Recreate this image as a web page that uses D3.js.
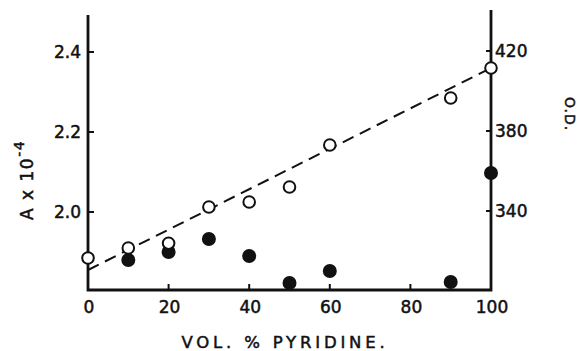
<!DOCTYPE html>
<html>
<head>
<meta charset="utf-8">
<script src="https://cdn.jsdelivr.net/npm/d3@7"></script>
<style>
  body { margin: 0; background: #fff; }
  svg { display: block; }
  text { font-family: "DejaVu Sans", sans-serif; fill: #111; stroke: #111; stroke-width: 0.5px; }
</style>
</head>
<body>
<div id="chart"></div>
<script>
// Data
const pyridine = [0, 10, 20, 30, 40, 50, 60, 90, 100]
const openA = [1.885, 1.91, 1.922, 2.0125, 2.025, 2.0625, 2.1675, 2.285, 2.36]
const filledX = [10, 20, 30, 40, 50, 60, 90, 100]
const filledA = [1.88, 1.90, 1.9325, 1.89, 1.8225, 1.8525, 1.825, 2.0975]
const fitLine = [[0, 1.855], [100, 2.36]]
const xTicks = [0, 20, 40, 60, 80, 100]
const leftTicks = [2.0, 2.2, 2.4]
const rightTicks = [340, 380, 420]

const width = 577, height = 351
const svg = d3.select('#chart').append('svg')
    .attr('width', width)
    .attr('height', height)

// Scales
const x = d3.scaleLinear().domain([0, 100]).range([88, 491])
const y = d3.scaleLinear().domain([2.0, 2.4]).range([212, 52])
const yRight = d3.scaleLinear().domain([340, 420]).range([211, 51])
const axisBottom = 290

// Axis lines
svg.append('path')
    .attr('d', `M${x(0)},15 L${x(0)},${axisBottom} L${x(100)},${axisBottom} L${x(100)},10`)
    .attr('stroke', '#111')
    .attr('stroke-width', 2.8)
    .attr('fill', 'none')

// Ticks (inward)
const tickG = svg.append('g').attr('stroke', '#111').attr('stroke-width', 2)
tickG.selectAll('line.xt')
    .data(xTicks.filter(d => d > 0 && d < 100))
    .join('line')
    .attr('x1', d => x(d)).attr('x2', d => x(d))
    .attr('y1', axisBottom).attr('y2', axisBottom - 6)
tickG.selectAll('line.lt')
    .data(leftTicks)
    .join('line')
    .attr('x1', x(0)).attr('x2', x(0) + 6)
    .attr('y1', d => y(d)).attr('y2', d => y(d))
svg.append('g').attr('stroke', '#111').attr('stroke-width', 2)
    .selectAll('line')
    .data(rightTicks)
    .join('line')
    .attr('x1', x(100) - 5).attr('x2', x(100))
    .attr('y1', d => yRight(d)).attr('y2', d => yRight(d))

// Tick labels
svg.append('g').selectAll('text')
    .data(xTicks)
    .join('text')
    .attr('x', d => x(d) + 1)
    .attr('y', 313)
    .attr('text-anchor', 'middle')
    .attr('font-size', 17)
    .text(d => d)
svg.append('g').selectAll('text')
    .data(leftTicks)
    .join('text')
    .attr('x', 81)
    .attr('y', d => y(d))
    .attr('dy', '0.36em')
    .attr('text-anchor', 'end')
    .attr('font-size', 17)
    .text(d => d.toFixed(1))
svg.append('g').selectAll('text')
    .data(rightTicks)
    .join('text')
    .attr('x', 495)
    .attr('y', d => yRight(d))
    .attr('dy', '0.36em')
    .attr('font-size', 17)
    .text(d => d)

// Axis titles
svg.append('text')
    .attr('x', 285)
    .attr('y', 348)
    .attr('text-anchor', 'middle')
    .attr('font-size', 16.5)
    .attr('letter-spacing', 3.8)
    .text('VOL. % PYRIDINE.')

const leftTitle = svg.append('text')
    .attr('transform', 'translate(33,220) rotate(-90)')
    .attr('font-size', 17)
    .attr('letter-spacing', 1.5)
leftTitle.append('tspan').text('A x 10')
leftTitle.append('tspan').attr('dy', -9).attr('font-size', 14).text('-4')

svg.append('text')
    .attr('transform', 'translate(565,97) rotate(90)')
    .attr('font-size', 14)
    .attr('letter-spacing', 1)
    .text('O.D.')

// Fitted dashed line
svg.append('path')
    .datum(fitLine)
    .attr('d', d3.line().x(d => x(d[0])).y(d => y(d[1])))
    .attr('fill', 'none')
    .attr('stroke', '#111')
    .attr('stroke-width', 2)
    .attr('stroke-dasharray', '12,7')

// Filled points
svg.append('g').selectAll('circle')
    .data(filledX.map((d, i) => [d, filledA[i]]))
    .join('circle')
    .attr('cx', d => x(d[0]))
    .attr('cy', d => y(d[1]))
    .attr('r', 7)
    .attr('fill', '#111')

// Open points
svg.append('g').selectAll('circle')
    .data(pyridine.map((d, i) => [d, openA[i]]))
    .join('circle')
    .attr('cx', d => x(d[0]))
    .attr('cy', d => y(d[1]))
    .attr('r', 5.8)
    .attr('fill', '#fff')
    .attr('stroke', '#111')
    .attr('stroke-width', 2)
</script>
</body>
</html>
